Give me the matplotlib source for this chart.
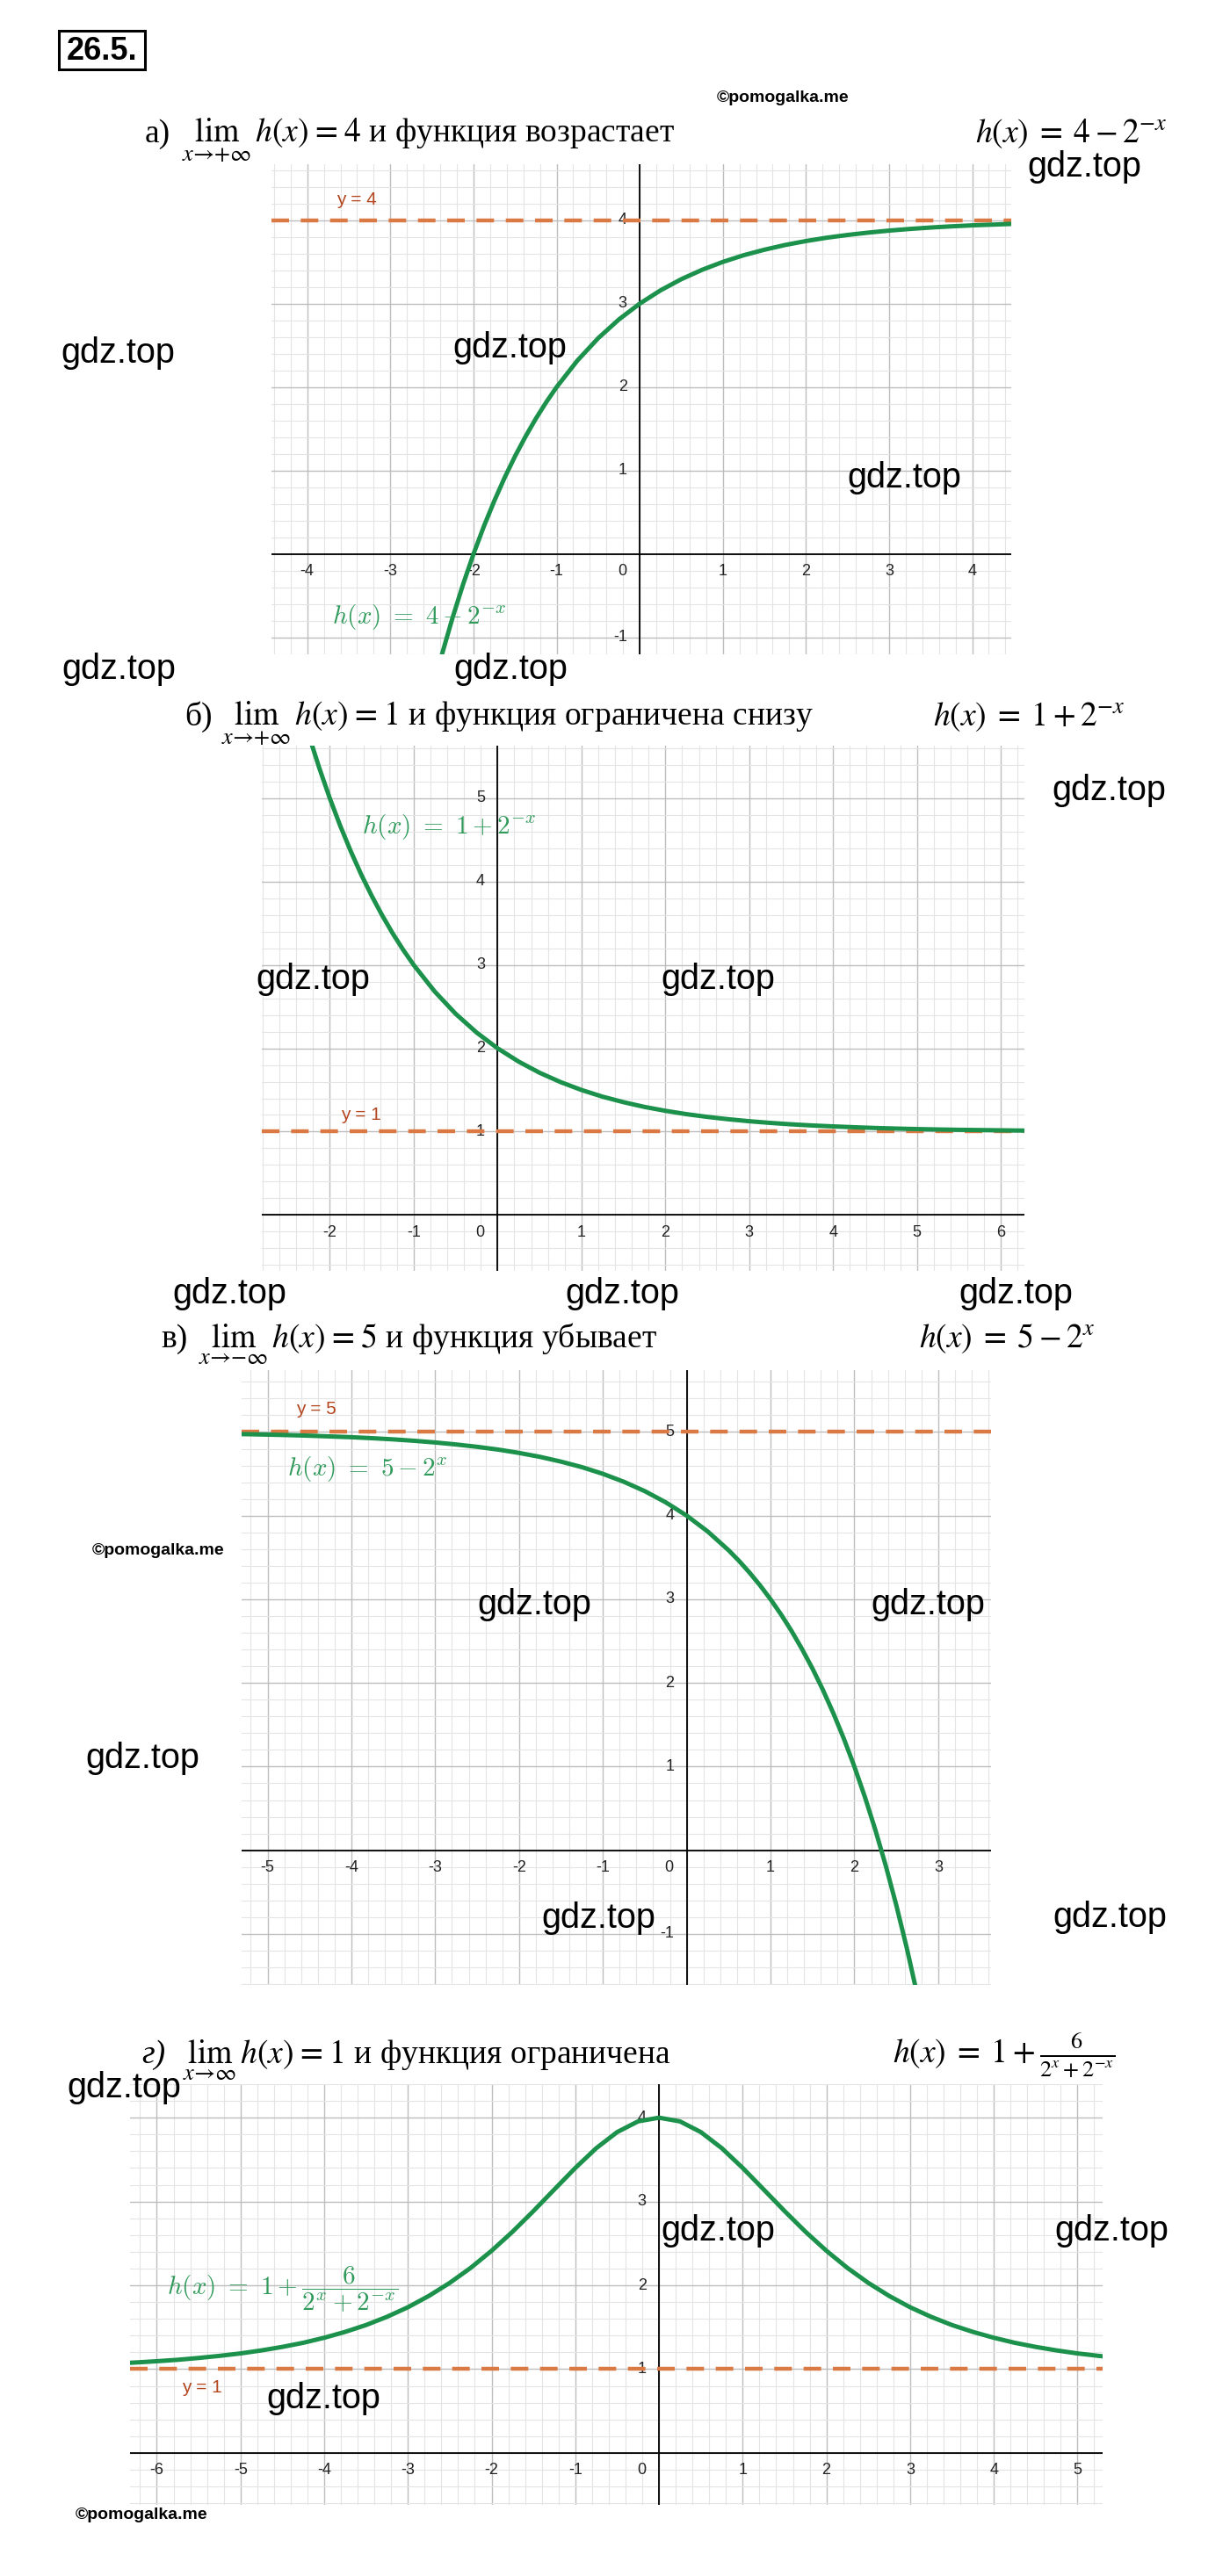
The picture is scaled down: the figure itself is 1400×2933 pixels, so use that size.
"""Recreate the 26.5 worksheet: four function graphs with asymptotes."""
import matplotlib
matplotlib.use("Agg")
import matplotlib.pyplot as plt
from matplotlib.patches import Rectangle
from matplotlib.ticker import MultipleLocator

plt.rcParams["font.family"] = ["Liberation Sans", "DejaVu Sans"]
plt.rcParams["mathtext.fontset"] = "stix"

W, H, DPI = 1400, 2933, 100

# ---- values ----
# а) h(x) = 4 - 2^-x
a_x = [-2.5, -2.375, -2.25, -2.125, -2.0, -1.875, -1.75, -1.625, -1.5, -1.375, -1.25, -1.125,
       -1.0, -0.75, -0.5, -0.25, 0.0, 0.25, 0.5, 0.75, 1.0, 1.25, 1.5, 1.75, 2.0, 2.25, 2.5,
       2.75, 3.0, 3.25, 3.5, 3.75, 4.0, 4.25, 4.5]
a_y = [-1.657, -1.187, -0.757, -0.362, 0.0, 0.332, 0.636, 0.916, 1.172, 1.406, 1.622, 1.819,
       2.0, 2.318, 2.586, 2.811, 3.0, 3.159, 3.293, 3.405, 3.5, 3.580, 3.646, 3.703, 3.75,
       3.790, 3.823, 3.851, 3.875, 3.895, 3.912, 3.926, 3.938, 3.947, 3.956]
a_asym = 4
a_xticks = [-4, -3, -2, -1, 1, 2, 3, 4]
a_yticks = [-1, 1, 2, 3, 4]

# б) h(x) = 1 + 2^-x
b_x = [-2.25, -2.125, -2.0, -1.875, -1.75, -1.625, -1.5, -1.375, -1.25, -1.125, -1.0, -0.75,
       -0.5, -0.25, 0.0, 0.25, 0.5, 0.75, 1.0, 1.25, 1.5, 1.75, 2.0, 2.25, 2.5, 2.75, 3.0,
       3.25, 3.5, 3.75, 4.0, 4.25, 4.5, 4.75, 5.0, 5.25, 5.5, 5.75, 6.0, 6.25, 6.5]
b_y = [5.757, 5.362, 5.0, 4.668, 4.364, 4.084, 3.828, 3.594, 3.378, 3.181, 3.0, 2.682, 2.414,
       2.189, 2.0, 1.841, 1.707, 1.595, 1.5, 1.420, 1.354, 1.297, 1.25, 1.210, 1.177, 1.149,
       1.125, 1.105, 1.088, 1.074, 1.063, 1.053, 1.044, 1.037, 1.031, 1.026, 1.022, 1.019,
       1.016, 1.013, 1.011]
b_asym = 1
b_xticks = [-2, -1, 1, 2, 3, 4, 5, 6]
b_yticks = [1, 2, 3, 4, 5]

# в) h(x) = 5 - 2^x
c_x = [-5.5, -5.25, -5.0, -4.75, -4.5, -4.25, -4.0, -3.75, -3.5, -3.25, -3.0, -2.75, -2.5,
       -2.25, -2.0, -1.75, -1.5, -1.25, -1.0, -0.75, -0.5, -0.25, 0.0, 0.25, 0.5, 0.625,
       0.75, 0.875, 1.0, 1.125, 1.25, 1.375, 1.5, 1.625, 1.75, 1.875, 2.0, 2.125, 2.25,
       2.375, 2.5, 2.625, 2.75]
c_y = [4.978, 4.974, 4.969, 4.963, 4.956, 4.947, 4.938, 4.926, 4.912, 4.895, 4.875, 4.851,
       4.823, 4.790, 4.75, 4.703, 4.646, 4.580, 4.5, 4.405, 4.293, 4.159, 4.0, 3.811, 3.586,
       3.458, 3.318, 3.166, 3.0, 2.819, 2.622, 2.406, 2.172, 1.916, 1.636, 1.332, 1.0,
       0.638, 0.243, -0.187, -0.657, -1.169, -1.727]
c_asym = 5
c_xticks = [-5, -4, -3, -2, -1, 1, 2, 3]
c_yticks = [-1, 1, 2, 3, 4, 5]

# г) h(x) = 1 + 6 / (2^x + 2^-x)
d_x = [-6.5, -6.25, -6.0, -5.75, -5.5, -5.25, -5.0, -4.75, -4.5, -4.25, -4.0, -3.75, -3.5,
       -3.25, -3.0, -2.75, -2.5, -2.25, -2.0, -1.75, -1.5, -1.25, -1.0, -0.75, -0.5, -0.25,
       0.0, 0.25, 0.5, 0.75, 1.0, 1.25, 1.5, 1.75, 2.0, 2.25, 2.5, 2.75, 3.0, 3.25, 3.5, 3.75,
       4.0, 4.25, 4.5, 4.75, 5.0, 5.25, 5.5]
d_y = [1.066, 1.079, 1.094, 1.111, 1.133, 1.158, 1.187, 1.223, 1.265, 1.314, 1.374, 1.444,
       1.526, 1.624, 1.738, 1.873, 2.029, 2.208, 2.412, 2.639, 2.886, 3.144, 3.4, 3.636,
       3.828, 3.956, 4.0, 3.956, 3.828, 3.636, 3.4, 3.144, 2.886, 2.639, 2.412, 2.208, 2.029,
       1.873, 1.738, 1.624, 1.526, 1.444, 1.374, 1.314, 1.265, 1.223, 1.187, 1.158, 1.133]
d_asym = 1
d_xticks = [-6, -5, -4, -3, -2, -1, 1, 2, 3, 4, 5]
d_yticks = [1, 2, 3, 4]

GREEN = "#1b914b"
GREEN_TXT = "#2f9a5a"
ORANGE = "#db7944"
ORANGE_TXT = "#b4461f"
TICK_C = "#222222"

fig = plt.figure(figsize=(W / DPI, H / DPI), dpi=DPI)


def fx(px):
    return px / W


def fy(py):
    return 1 - py / H


def panel(box, xlim, ylim, xs, ys, asym, xticks, yticks, asym_at, formula, formula_at):
    left, top, right, bottom = box
    ax = fig.add_axes([fx(left), fy(bottom), (right - left) / W, (bottom - top) / H])
    ax.set_xlim(*xlim)
    ax.set_ylim(*ylim)
    for s in ax.spines.values():
        s.set_visible(False)
    ax.xaxis.set_major_locator(MultipleLocator(1))
    ax.yaxis.set_major_locator(MultipleLocator(1))
    ax.xaxis.set_minor_locator(MultipleLocator(0.2))
    ax.yaxis.set_minor_locator(MultipleLocator(0.2))
    ax.tick_params(which="both", length=0, labelbottom=False, labelleft=False)
    ax.grid(which="minor", color="#e4e4e4", lw=0.8)
    ax.grid(which="major", color="#bdbdbd", lw=1.0)
    ax.set_axisbelow(True)
    ax.axhline(0, color="black", lw=1.3, zorder=2)
    ax.axvline(0, color="black", lw=1.3, zorder=2)

    off = 14.4  # 20 px
    for t in xticks:
        ax.annotate(str(t), (t, 0), xytext=(0, -off), textcoords="offset points",
                    ha="center", va="center", fontsize=13, color=TICK_C, zorder=3)
    for t in yticks:
        ax.annotate(str(t), (0, t), xytext=(-off + 4, 0), textcoords="offset points",
                    ha="right", va="center", fontsize=13, color=TICK_C, zorder=3)
    ax.annotate("0", (0, 0), xytext=(-off, -off), textcoords="offset points",
                ha="center", va="center", fontsize=13, color=TICK_C, zorder=3)

    ax.axhline(asym, color=ORANGE, lw=3.2, ls=(0, (4.5, 3)), zorder=4)
    ax.plot(xs, ys, color=GREEN, lw=3.6, zorder=5, solid_capstyle="butt")
    ax.text(asym_at[0], asym_at[1], f"y = {asym}", color=ORANGE_TXT, fontsize=15,
            ha="left", va="center", zorder=6)
    ax.text(formula_at[0], formula_at[1], formula, color=GREEN_TXT, fontsize=21,
            math_fontfamily="cm", ha="left", va="center", zorder=6)
    return ax


panel((309, 187, 1151, 745), (-4.43, 4.47), (-1.2, 4.67), a_x, a_y, a_asym,
      a_xticks, a_yticks, (-3.65, 4.24), r"$h(x)\ =\ 4 - 2^{-x}$", (-3.70, -0.755))
panel((298, 849, 1166, 1447), (-2.81, 6.28), (-0.67, 5.63), b_x, b_y, b_asym,
      b_xticks, b_yticks, (-1.87, 1.2), r"$h(x)\ =\ 1 + 2^{-x}$", (-1.62, 4.66))
panel((275, 1560, 1128, 2260), (-5.31, 3.63), (-1.61, 5.74), c_x, c_y, c_asym,
      c_xticks, c_yticks, (-4.66, 5.27), r"$h(x)\ =\ 5 - 2^{x}$", (-4.77, 4.56))
panel((148, 2373, 1255, 2852), (-6.32, 5.30), (-0.62, 4.40), d_x, d_y, d_asym,
      d_xticks, d_yticks, (-5.70, 0.78), r"$h(x)\ =\ 1 + \dfrac{6}{2^{x} + 2^{-x}}$",
      (-5.88, 1.95))

# ---- headers ----
SERIF = ["Liberation Serif", "DejaVu Serif"]
HSIZE = 27
headers = [
    ("а)", "normal", 165, 207, 162,
     r"$\lim_{x\to+\infty}\,h(x)\;=\;4$ и функция возрастает",
     1110, r"$h(x)\;=\;4 - 2^{-x}$"),
    ("б)", "normal", 210, 252, 826,
     r"$\lim_{x\to+\infty}\,h(x)\;=\;1$ и функция ограничена снизу",
     1062, r"$h(x)\;=\;1 + 2^{-x}$"),
    ("в)", "normal", 183, 226, 1534,
     r"$\lim_{x\to-\infty}\,h(x)\;=\;5$ и функция убывает",
     1046, r"$h(x)\;=\;5 - 2^{x}$"),
    ("г)", "italic", 161, 208, 2349,
     r"$\lim_{x\to\infty}\,h(x)\;=\;1$ и функция ограничена",
     1016, r"$h(x)\;=\;1 + \frac{6}{2^{x}+2^{-x}}$"),
]
for prefix, style, px, bx, base, body, rx, right in headers:
    fig.text(fx(px), fy(base), prefix, family=SERIF, style=style, fontsize=HSIZE,
             ha="left", va="baseline")
    fig.text(fx(bx), fy(base), body, family=SERIF, fontsize=HSIZE, ha="left", va="baseline")
    fig.text(fx(rx), fy(base), right, family=SERIF, fontsize=HSIZE, ha="left", va="baseline")

# ---- task number box ----
fig.add_artist(Rectangle((fx(67), fy(79)), 98 / W, 44 / H, transform=fig.transFigure,
                         fill=False, lw=2.2, ec="black"))
fig.text(fx(116), fy(58), "26.5.", fontsize=26, weight="bold", ha="center", va="center")

# ---- watermarks ----
gdz = [(1169, 190), (69, 402), (515, 396), (964, 544), (70, 762), (516, 762),
       (1197, 900), (291, 1115), (752, 1115), (196, 1473), (643, 1473), (1091, 1473),
       (543, 1827), (991, 1827), (97, 2002), (616, 2184), (1198, 2183), (76, 2377),
       (752, 2540), (1200, 2540), (303, 2731)]
for x, y in gdz:
    fig.text(fx(x), fy(y), "gdz.top", fontsize=28.5, ha="left", va="center", zorder=10)

for x, y in [(816, 112), (105, 1766), (86, 2864)]:
    fig.text(fx(x), fy(y), "©pomogalka.me", fontsize=14, weight="bold",
             ha="left", va="center", zorder=10)

fig.savefig("out.png", dpi=DPI)
